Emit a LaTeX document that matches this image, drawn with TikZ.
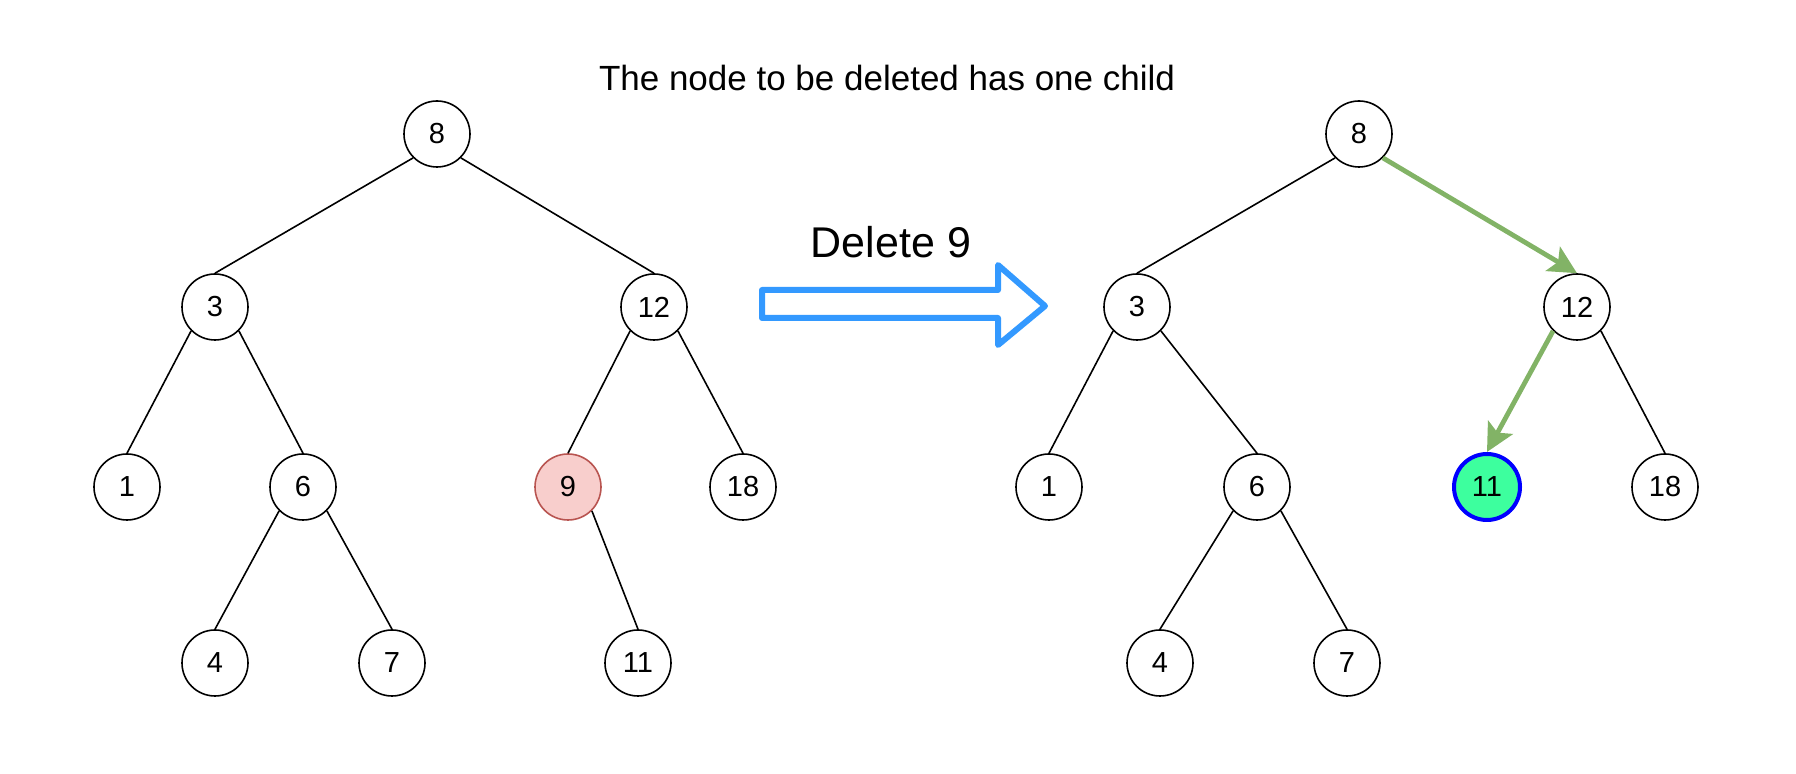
\documentclass[tikz,border=0pt]{standalone}
\usepackage{fontspec}
\setmainfont{Liberation Sans}
\usetikzlibrary{arrows.meta}
\definecolor{delred}{HTML}{B85450}
\definecolor{delfill}{HTML}{F8CECC}
\definecolor{movegreen}{HTML}{82B366}
\definecolor{newfill}{HTML}{3DFF9E}
\definecolor{opblue}{HTML}{3399FF}

\begin{document}
\begin{tikzpicture}[
    x=0.5pt, y=-0.5pt,
    treenode/.style={circle, draw, line width=0.8pt, fill=white, minimum size=33pt, inner sep=0pt, font=\fontsize{14.5}{16}\selectfont},
    delnode/.style={treenode, draw=delred, fill=delfill},
    newnode/.style={treenode, draw=blue, fill=newfill, line width=2pt},
    edge/.style={line width=0.8pt},
    moved/.style={-{Stealth[length=14pt, width=14pt, inset=3pt]}, color=movegreen, line width=2.4pt}
]
\useasboundingbox (0,0) rectangle (1796,774);

% Title
\node[font=\fontsize{17.5}{20}\selectfont] (title) at (887,78) {The node to be deleted has one child};

% Left tree - before deletion
\node[treenode] (l8) at (437,134) {8};
\node[treenode] (l3) at (215,307) {3};
\node[treenode] (l12) at (654,307) {12};
\node[treenode] (l1) at (127,487) {1};
\node[treenode] (l6) at (303,487) {6};
\node[delnode] (l9) at (568,487) {9};
\node[treenode] (l18) at (743,487) {18};
\node[treenode] (l4) at (215,663) {4};
\node[treenode] (l7) at (392,663) {7};
\node[treenode] (l11) at (638,663) {11};

\draw[edge] (l8.south west) -- (l3.north);
\draw[edge] (l8.south east) -- (l12.north);
\draw[edge] (l3.south west) -- (l1.north);
\draw[edge] (l3.south east) -- (l6.north);
\draw[edge] (l6.south west) -- (l4.north);
\draw[edge] (l6.south east) -- (l7.north);
\draw[edge] (l12.south west) -- (l9.north);
\draw[edge] (l12.south east) -- (l18.north);
\draw[edge] (l9.south east) -- (l11.north);

% Operation arrow
\node[font=\fontsize{21.5}{24}\selectfont] (op) at (891,242) {Delete 9};
\draw[draw=opblue, line width=3pt, line join=round, fill=white]
    (762,290) -- (998,290) -- (998,265) -- (1045,306) -- (998,345) -- (998,318) -- (762,318) -- cycle;

% Right tree - after deletion
\node[treenode] (r8) at (1359,134) {8};
\node[treenode] (r3) at (1137,307) {3};
\node[treenode] (r12) at (1577,307) {12};
\node[treenode] (r1) at (1049,487) {1};
\node[treenode] (r6) at (1257,487) {6};
\node[newnode] (r11) at (1487,487) {11};
\node[treenode] (r18) at (1665,487) {18};
\node[treenode] (r4) at (1160,663) {4};
\node[treenode] (r7) at (1347,663) {7};

\draw[edge] (r8.south west) -- (r3.north);
\draw[edge] (r3.south west) -- (r1.north);
\draw[edge] (r3.south east) -- (r6.north);
\draw[edge] (r6.south west) -- (r4.north);
\draw[edge] (r6.south east) -- (r7.north);
\draw[edge] (r12.south east) -- (r18.north);

% Path to the child that took the place of 9
\draw[moved] (r8.south east) -- (r12.north);
\draw[moved] (r12.south west) -- (r11.north);

\end{tikzpicture}
\end{document}
